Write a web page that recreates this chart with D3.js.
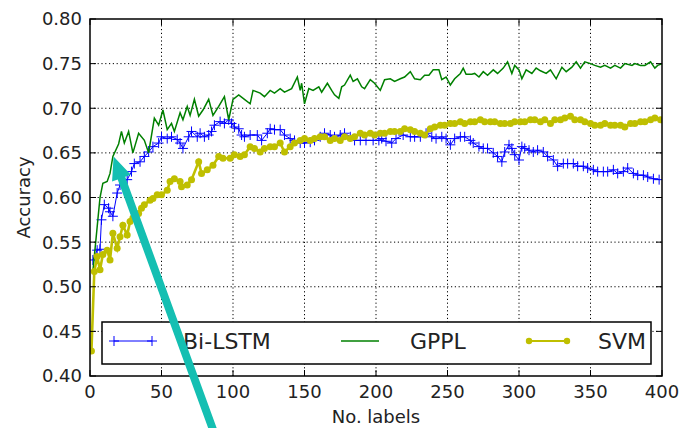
<!DOCTYPE html>
<html lang="en">
<head>
  <meta charset="UTF-8">
  <title>Accuracy vs. number of labels</title>
  <script src="https://d3js.org/d3.v7.min.js"></script>
  <style>
    body { margin: 0; background: #fff; }
    svg { display: block; font-family: "DejaVu Sans", sans-serif; }
    .grid line { stroke: #000; stroke-width: 1; stroke-dasharray: 1.2,2.6; }
    .tick-label { font-size: 18px; fill: #222; }
  </style>
</head>
<body>
  <script>
    // Bi-LSTM
    const lstmX = [2,5,7,8,10,13,14,16,19,21,26,29,31,35,38,41,44,48,50,54,57,61,63,65,69,71,75,77,80,83,85,87,91,94,97,99,101,104,106,108,112,117,120,124,126,129,133,136,140,143,147,150,154,157,161,164,168,171,175,178,182,185,189,193,198,202,204,207,211,214,219,224,227,231,235,239,242,246,249,252,255,259,262,266,268,272,275,278,282,285,288,290,293,295,297,300,302,304,307,310,313,317,320,324,327,331,334,338,341,345,348,352,355,359,362,366,369,373,376,380,383,387,390,394,398];
    const lstmY = [0.530,0.541,0.542,0.575,0.592,0.588,0.584,0.579,0.605,0.614,0.620,0.629,0.638,0.640,0.646,0.651,0.657,0.661,0.668,0.666,0.668,0.665,0.661,0.655,0.668,0.674,0.668,0.672,0.668,0.670,0.674,0.681,0.685,0.683,0.687,0.683,0.679,0.677,0.670,0.668,0.670,0.670,0.664,0.672,0.677,0.676,0.676,0.670,0.666,0.664,0.661,0.661,0.662,0.664,0.668,0.672,0.670,0.668,0.670,0.672,0.668,0.664,0.664,0.664,0.664,0.664,0.666,0.663,0.661,0.666,0.670,0.668,0.668,0.668,0.672,0.668,0.666,0.668,0.666,0.659,0.666,0.668,0.668,0.664,0.661,0.657,0.655,0.655,0.650,0.646,0.640,0.651,0.659,0.655,0.648,0.642,0.657,0.655,0.653,0.651,0.653,0.651,0.646,0.642,0.635,0.638,0.638,0.638,0.635,0.635,0.633,0.631,0.629,0.629,0.629,0.631,0.627,0.629,0.633,0.627,0.625,0.625,0.623,0.621,0.620];

    // GPPL
    const gpplX = [2,5,7,9,12,14,16,20,22,24,27,30,34,38,41,45,48,51,54,57,59,63,65,68,70,73,76,79,83,86,90,94,97,100,104,108,112,114,119,122,126,129,133,136,141,145,147,148,150,153,156,160,162,166,169,171,174,176,178,182,184,187,190,192,196,199,203,206,210,213,217,220,224,227,231,234,237,240,244,246,249,252,255,259,261,263,267,269,272,275,278,282,285,289,292,295,297,300,302,305,309,312,315,319,322,326,330,333,337,340,343,346,350,353,357,360,364,367,371,374,379,381,385,388,392,395,397,400];
    const gpplY = [0.517,0.567,0.600,0.616,0.618,0.627,0.646,0.660,0.674,0.661,0.674,0.650,0.672,0.664,0.650,0.689,0.681,0.698,0.676,0.683,0.674,0.695,0.687,0.702,0.692,0.710,0.691,0.698,0.710,0.692,0.702,0.713,0.687,0.710,0.715,0.710,0.705,0.720,0.717,0.713,0.720,0.717,0.722,0.718,0.722,0.735,0.720,0.728,0.705,0.722,0.720,0.724,0.718,0.728,0.720,0.715,0.711,0.724,0.726,0.737,0.730,0.733,0.724,0.722,0.732,0.728,0.720,0.732,0.733,0.730,0.733,0.735,0.741,0.733,0.732,0.737,0.737,0.743,0.743,0.732,0.735,0.726,0.733,0.739,0.745,0.738,0.738,0.739,0.735,0.741,0.737,0.743,0.739,0.745,0.752,0.739,0.748,0.743,0.733,0.743,0.739,0.745,0.742,0.739,0.743,0.733,0.746,0.741,0.746,0.752,0.745,0.752,0.750,0.748,0.746,0.748,0.745,0.748,0.745,0.750,0.748,0.750,0.748,0.748,0.752,0.745,0.748,0.750];

    // SVM
    const svmX = [1,3,5,7,9,12,14,16,19,21,23,26,28,30,34,36,38,42,44,47,50,54,56,59,63,64,68,71,76,78,82,86,90,93,98,101,105,108,112,115,119,122,126,129,133,136,140,143,147,150,154,157,161,164,168,171,175,178,182,185,189,192,196,199,203,206,210,213,217,220,224,227,231,234,238,241,245,248,252,255,259,262,266,269,273,276,280,283,287,290,294,297,301,304,308,311,315,318,322,325,329,332,336,339,343,346,350,353,357,360,364,367,371,374,378,381,385,388,392,395,399];
    const svmY = [0.428,0.517,0.534,0.519,0.536,0.541,0.530,0.560,0.543,0.556,0.569,0.558,0.573,0.577,0.582,0.588,0.592,0.597,0.599,0.603,0.603,0.608,0.618,0.621,0.618,0.612,0.614,0.620,0.640,0.627,0.631,0.636,0.646,0.644,0.644,0.648,0.646,0.648,0.657,0.655,0.651,0.655,0.657,0.657,0.661,0.651,0.657,0.661,0.664,0.666,0.664,0.666,0.668,0.668,0.664,0.666,0.664,0.668,0.666,0.668,0.672,0.670,0.672,0.670,0.672,0.672,0.674,0.674,0.674,0.677,0.676,0.674,0.672,0.670,0.677,0.679,0.681,0.681,0.683,0.683,0.685,0.683,0.685,0.685,0.687,0.685,0.685,0.685,0.683,0.683,0.683,0.685,0.685,0.685,0.687,0.687,0.685,0.687,0.683,0.687,0.687,0.689,0.691,0.687,0.687,0.685,0.683,0.681,0.681,0.683,0.681,0.681,0.681,0.679,0.683,0.683,0.685,0.685,0.687,0.689,0.687];

    const xTicks = [0, 50, 100, 150, 200, 250, 300, 350, 400];
    const yTicks = [0.40, 0.45, 0.50, 0.55, 0.60, 0.65, 0.70, 0.75, 0.80];
    const legendNames = ["Bi-LSTM", "GPPL", "SVM"];

    const width = 681, height = 428;
    const margin = { top: 19, right: 19, bottom: 52, left: 90 };

    const svg = d3.select("body").append("svg")
      .attr("width", width)
      .attr("height", height);

    const x = d3.scaleLinear().domain([0, 400]).range([margin.left, width - margin.right]);
    const y = d3.scaleLinear().domain([0.40, 0.80]).range([height - margin.bottom, margin.top]);

    svg.append("defs").append("clipPath").attr("id", "plot")
      .append("rect")
      .attr("x", x(0)).attr("y", y(0.80))
      .attr("width", x(400) - x(0)).attr("height", y(0.40) - y(0.80));

    // dotted grid
    const grid = svg.append("g").attr("class", "grid");
    grid.selectAll(".vx").data(xTicks.slice(1, -1)).join("line")
      .attr("x1", d => x(d)).attr("x2", d => x(d))
      .attr("y1", y(0.40)).attr("y2", y(0.80));
    grid.selectAll(".hy").data(yTicks.slice(1, -1)).join("line")
      .attr("y1", d => y(d)).attr("y2", d => y(d))
      .attr("x1", x(0)).attr("x2", x(400));

    const zip = (xs, ys) => xs.map((v, i) => [v, ys[i]]);
    const lstm = zip(lstmX, lstmY), gppl = zip(gpplX, gpplY), svm = zip(svmX, svmY);
    const line = d3.line().x(d => x(d[0])).y(d => y(d[1]));

    const plot = svg.append("g").attr("clip-path", "url(#plot)");

    // Bi-LSTM line with + markers
    plot.append("path").datum(lstm)
      .attr("fill", "none").attr("stroke", "#0000ff").attr("stroke-width", 1)
      .attr("d", line);
    plot.append("g").selectAll("path").data(lstm).join("path")
      .attr("transform", d => `translate(${x(d[0])},${y(d[1])})`)
      .attr("d", "M-5,0H5M0,-5V5")
      .attr("stroke", "#0000ff").attr("stroke-width", 1);

    // GPPL
    plot.append("path").datum(gppl)
      .attr("fill", "none").attr("stroke", "#008000").attr("stroke-width", 1.5)
      .attr("d", line);

    // SVM line with dots
    plot.append("path").datum(svm)
      .attr("fill", "none").attr("stroke", "#bfbf00").attr("stroke-width", 2.6)
      .attr("d", line);
    plot.append("g").selectAll("circle").data(svm).join("circle")
      .attr("cx", d => x(d[0])).attr("cy", d => y(d[1]))
      .attr("r", 3.5).attr("fill", "#bfbf00");

    // frame
    svg.append("rect")
      .attr("x", x(0)).attr("y", y(0.80))
      .attr("width", x(400) - x(0)).attr("height", y(0.40) - y(0.80))
      .attr("fill", "none").attr("stroke", "#000").attr("stroke-width", 1.5);

    // inward ticks on all sides
    const tickLen = 6;
    const ticks = svg.append("g").attr("stroke", "#000").attr("stroke-width", 1);
    xTicks.forEach(t => {
      ticks.append("line").attr("x1", x(t)).attr("x2", x(t)).attr("y1", y(0.40)).attr("y2", y(0.40) - tickLen);
      ticks.append("line").attr("x1", x(t)).attr("x2", x(t)).attr("y1", y(0.80)).attr("y2", y(0.80) + tickLen);
    });
    yTicks.forEach(t => {
      ticks.append("line").attr("y1", y(t)).attr("y2", y(t)).attr("x1", x(0)).attr("x2", x(0) + tickLen);
      ticks.append("line").attr("y1", y(t)).attr("y2", y(t)).attr("x1", x(400)).attr("x2", x(400) - tickLen);
    });

    svg.append("g").selectAll("text").data(xTicks).join("text")
      .attr("class", "tick-label")
      .attr("x", d => x(d)).attr("y", y(0.40) + 22)
      .attr("text-anchor", "middle")
      .text(d => d);
    svg.append("g").selectAll("text").data(yTicks).join("text")
      .attr("class", "tick-label")
      .attr("x", x(0) - 8).attr("y", d => y(d))
      .attr("dy", "0.36em")
      .attr("text-anchor", "end")
      .text(d => d3.format(".2f")(d));

    svg.append("text")
      .attr("x", (x(0) + x(400)) / 2).attr("y", 423)
      .attr("text-anchor", "middle")
      .attr("font-size", 18).attr("fill", "#222")
      .text("No. labels");
    svg.append("text")
      .attr("transform", `translate(30,${(y(0.40) + y(0.80)) / 2}) rotate(-90)`)
      .attr("text-anchor", "middle")
      .attr("font-size", 18).attr("fill", "#222")
      .text("Accuracy");

    // legend
    const leg = svg.append("g");
    leg.append("rect")
      .attr("x", 102).attr("y", 322).attr("width", 549).attr("height", 42)
      .attr("fill", "#fff").attr("stroke", "#000").attr("stroke-width", 1.5);
    const legItems = [
      { name: legendNames[0], color: "#0000ff", x0: 114, marker: "plus", w: 1 },
      { name: legendNames[1], color: "#008000", x0: 341, marker: null, w: 1.5 },
      { name: legendNames[2], color: "#bfbf00", x0: 529, marker: "dot", w: 2 }
    ];
    legItems.forEach(it => {
      const ly = 341;
      leg.append("line").attr("x1", it.x0).attr("x2", it.x0 + 38).attr("y1", ly).attr("y2", ly)
        .attr("stroke", it.color).attr("stroke-width", it.w);
      [it.x0, it.x0 + 38].forEach(px => {
        if (it.marker === "plus") {
          leg.append("path").attr("d", `M${px - 5},${ly}H${px + 5}M${px},${ly - 5}V${ly + 5}`)
            .attr("stroke", it.color).attr("stroke-width", 1);
        } else if (it.marker === "dot") {
          leg.append("circle").attr("cx", px).attr("cy", ly).attr("r", 3.2).attr("fill", it.color);
        }
      });
      leg.append("text")
        .attr("x", it.x0 + 69).attr("y", ly).attr("dy", "0.36em")
        .attr("font-size", 22).attr("fill", "#222")
        .text(it.name);
    });

    // annotation arrow (in data coordinates)
    const tip = [16.5, 0.646], tail = [86, 0.34];
    const p1 = [x(tip[0]), y(tip[1])], p2 = [x(tail[0]), y(tail[1])];
    const ang = Math.atan2(p2[1] - p1[1], p2[0] - p1[0]);
    const headLen = 23, headHalf = 10, shaftHalf = 4;
    const ux = Math.cos(ang), uy = Math.sin(ang), nx = -uy, ny = ux;
    const bx = p1[0] + ux * headLen, by = p1[1] + uy * headLen;
    const arrowPts = [
      p1,
      [bx + nx * headHalf, by + ny * headHalf],
      [bx + nx * shaftHalf, by + ny * shaftHalf],
      [p2[0] + nx * shaftHalf, p2[1] + ny * shaftHalf],
      [p2[0] - nx * shaftHalf, p2[1] - ny * shaftHalf],
      [bx - nx * shaftHalf, by - ny * shaftHalf],
      [bx - nx * headHalf, by - ny * headHalf]
    ];
    svg.append("path")
      .attr("d", "M" + arrowPts.map(p => p.join(",")).join("L") + "Z")
      .attr("fill", "#14bfb2");
  </script>
</body>
</html>
